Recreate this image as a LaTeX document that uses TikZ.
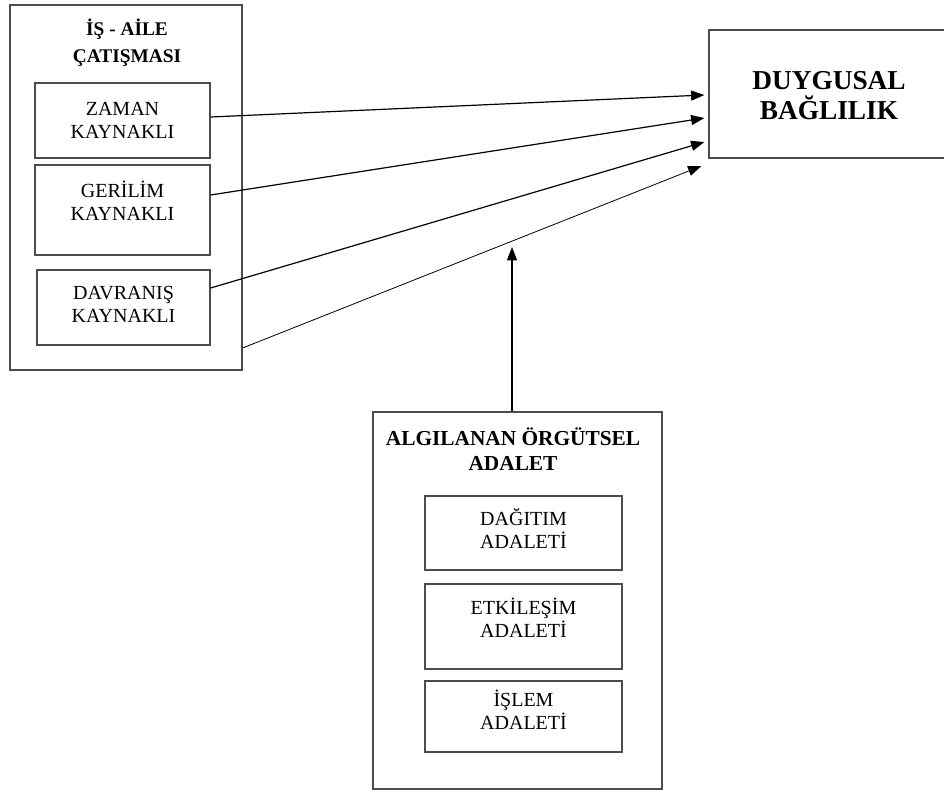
\documentclass[tikz,border=0pt]{standalone}
\usepackage{fontspec}
\setmainfont{Liberation Serif}
\usetikzlibrary{arrows.meta,fit,calc}
\begin{document}
\begin{tikzpicture}[x=0.75pt,y=-0.75pt,
  box/.style={draw=black!70, line width=0.9pt, inner sep=0pt},
  lbl/.style={align=center, inner sep=0pt, font=\fontsize{15}{17.25}\selectfont},
  ttl/.style={align=center, inner sep=0pt, font=\bfseries\fontsize{14.5}{20}\selectfont},
  arr/.style={line width=0.9pt, -{Triangle[length=10pt,width=7.5pt]}}]
\useasboundingbox (0,0) rectangle (944,791);
% left group
\node[box, fit={(10,5) (242,370)}] (isaile) {};
\node[ttl] (isailet) at (127,43) {İŞ - AİLE\\ÇATIŞMASI};
\node[box, fit={(35,83) (210,158)}] (zaman) {};
\node[lbl] (zamant) at (122.5,120) {ZAMAN\\KAYNAKLI};
\node[box, fit={(35,165) (210,255)}] (gerilim) {};
\node[lbl] (gerilimt) at (122.5,201) {GERİLİM\\KAYNAKLI};
\node[box, fit={(37,270) (210,345)}] (davranis) {};
\node[lbl] (davranist) at (123.5,304.5) {DAVRANIŞ\\KAYNAKLI};
% right box
\node[box, fit={(709,30) (960,158)}] (duygusal) {};
\node[align=center, inner sep=0pt, font=\bfseries\fontsize{20.5}{22.5}\selectfont] (duygusalt) at (829,96) {DUYGUSAL\\BAĞLILIK};
% bottom group
\node[box, fit={(373,412) (662,789)}] (adalet) {};
\node[ttl, font=\bfseries\fontsize{16}{19}\selectfont] (adalett) at (513,449) {ALGILANAN ÖRGÜTSEL\\ADALET};
\node[box, fit={(425,496) (622,570)}] (dagitim) {};
\node[lbl] (dagitimt) at (523.5,529) {DAĞITIM\\ADALETİ};
\node[box, fit={(425,584) (622,669)}] (etkilesim) {};
\node[lbl] (etkilesimt) at (523.5,618) {ETKİLEŞİM\\ADALETİ};
\node[box, fit={(425,681) (622,752)}] (islem) {};
\node[lbl] (islemt) at (523.5,710) {İŞLEM\\ADALETİ};
% arrows
\draw[arr] ($(zaman.east)+(0,-3.5)$) -- ($(duygusal.west)+(-4,1)$);
\draw[arr] ($(gerilim.east)+(0,-15)$) -- ($(duygusal.west)+(-4,24)$);
\draw[arr] ($(davranis.east)+(0,-19.5)$) -- ($(duygusal.west)+(-4,48)$);
\draw[arr, line width=0.6pt] ($(isaile.east)+(0,160.5)$) -- ($(duygusal.west)+(-7,72)$);
\coordinate (mod) at (512,247);
\draw[arr] ($(adalet.north)+(-5.5,0)$) -- (mod);
\end{tikzpicture}
\end{document}
